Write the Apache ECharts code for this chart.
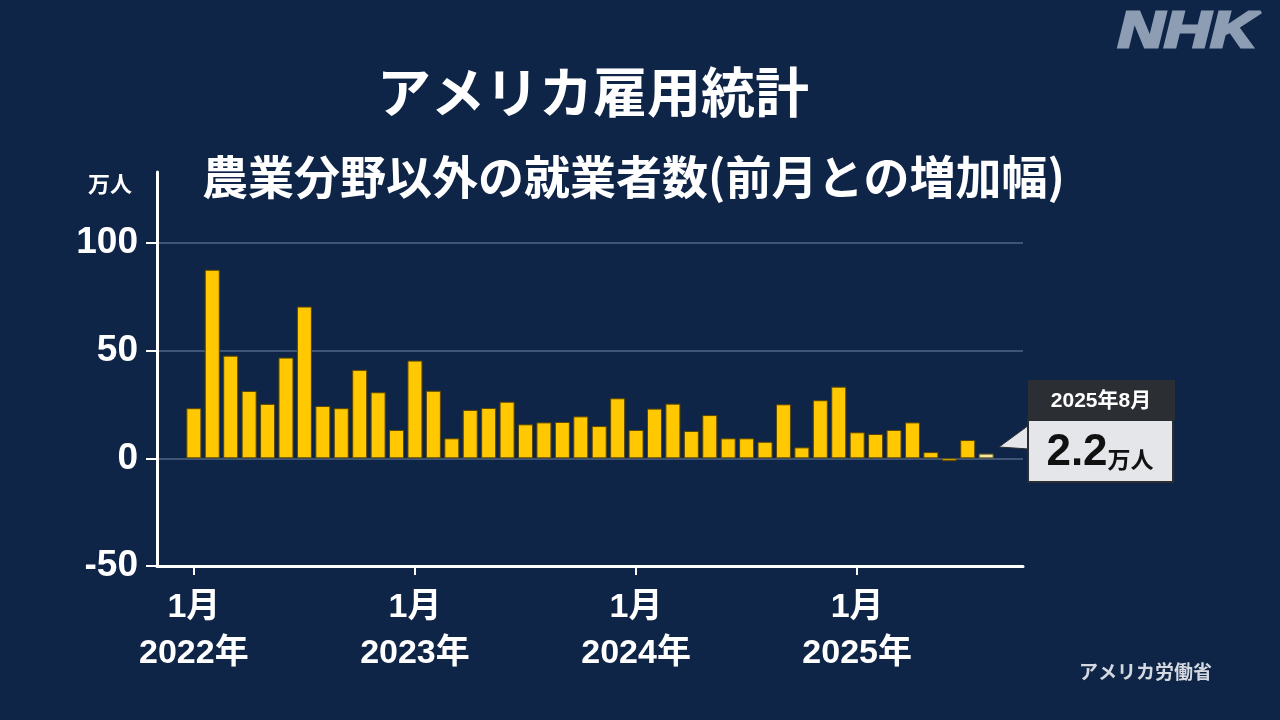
<!DOCTYPE html>
<html>
<head>
<meta charset="utf-8">
<script src="https://cdn.jsdelivr.net/npm/echarts@6/dist/echarts.min.js"></script>
<style>
html,body{margin:0;padding:0;background:#0f2548;}
#c{width:1280px;height:720px;}
</style>
</head>
<body>
<div id="c"></div>
<script>
// Months Jan 2022 .. Aug 2025
const months = [
 '2022-01','2022-02','2022-03','2022-04','2022-05','2022-06','2022-07','2022-08','2022-09','2022-10','2022-11','2022-12',
 '2023-01','2023-02','2023-03','2023-04','2023-05','2023-06','2023-07','2023-08','2023-09','2023-10','2023-11','2023-12',
 '2024-01','2024-02','2024-03','2024-04','2024-05','2024-06','2024-07','2024-08','2024-09','2024-10','2024-11','2024-12',
 '2025-01','2025-02','2025-03','2025-04','2025-05','2025-06','2025-07','2025-08'
];
// Non-farm payroll change, 10,000 persons (万人)
const values = [
 23.3, 87.6, 47.7, 31.3, 25.3, 46.8, 70.5, 24.3, 23.3, 41.1, 30.7, 13.2,
 45.4, 31.4, 9.3, 22.5, 23.4, 26.3, 15.8, 16.7, 16.9, 19.5, 15.0, 27.9,
 13.2, 23.1, 25.4, 12.7, 20.1, 9.3, 9.3, 7.7, 25.1, 5.1, 27.0, 33.3,
 12.1, 11.3, 13.2, 16.7, 2.9, -1.3, 8.5, 2.2
];
const yTicks = [-50, 0, 50, 100];
const xTickIndex = [0, 12, 24, 36];
const xTickLabels = ['1月\n2022年', '1月\n2023年', '1月\n2024年', '1月\n2025年'];
const titleText = 'アメリカ雇用統計';
const subtitleText = '農業分野以外の就業者数(前月との増加幅)';
const unitText = '万人';
const calloutMonth = '2025年8月';
const calloutValue = '2.2';
const sourceText = 'アメリカ労働省';

const FONT = '"Liberation Sans", "Noto Sans CJK JP", sans-serif';
const CJK = '"Noto Sans CJK JP", sans-serif';

const chart = echarts.init(document.getElementById('c'), null, {renderer: 'canvas'});
const lastIdx = values.length - 1;
const barData = values.map((v, i) => {
  const item = {value: [i, v]};
  if (i === lastIdx) item.itemStyle = {color: '#f8e79e', borderColor: '#6b5a20'};
  return item;
});

chart.setOption({
  backgroundColor: '#0f2548',
  animation: false,
  title: [
    {text: titleText, left: 372, top: 60,
     textStyle: {color: '#ffffff', fontSize: 54, fontWeight: 'bold', fontFamily: CJK}},
    {text: subtitleText, left: 197, top: 149,
     textStyle: {color: '#ffffff', fontSize: 46, fontWeight: 'bold', fontFamily: CJK}},
    {text: unitText, left: 83, top: 168,
     textStyle: {color: '#ffffff', fontSize: 22, fontWeight: 'bold', fontFamily: CJK}}
  ],
  grid: {left: 157, right: 257, top: 172, bottom: 154, containLabel: false},
  xAxis: {
    type: 'value', min: -2, max: 45,
    axisLine: {show: true, onZero: false, lineStyle: {color: '#ffffff', width: 3}},
    axisTick: {show: true, customValues: xTickIndex, length: 9, lineStyle: {color: '#ffffff', width: 2}},
    axisLabel: {
      show: true, customValues: xTickIndex, margin: 19,
      formatter: (v) => xTickLabels[xTickIndex.indexOf(v)] || '',
      color: '#ffffff', fontSize: 34, fontWeight: 'bold', fontFamily: FONT, lineHeight: 46
    },
    splitLine: {show: false}
  },
  yAxis: {
    type: 'value', min: -50, max: 133,
    axisLine: {show: true, onZero: false, lineStyle: {color: '#ffffff', width: 3}},
    axisTick: {show: true, customValues: yTicks, length: 11, lineStyle: {color: '#ffffff', width: 2}},
    axisLabel: {
      show: true, customValues: yTicks, margin: 19,
      color: '#ffffff', fontSize: 37, fontWeight: 'bold', fontFamily: FONT
    },
    splitLine: {show: true, showMinLine: false, showMaxLine: true,
      lineStyle: {color: '#3e5575', width: 2}}
  },
  series: [{
    type: 'bar',
    data: barData,
    barWidth: 15,
    itemStyle: {color: '#ffc800', borderColor: '#5a4700', borderWidth: 1}
  }],
  graphic: [
    // NHK logo
    {type: 'text', x: 1118, y: 8, scaleX: 1.28,
     style: {text: 'NHK', fill: '#8d9db3', stroke: '#8d9db3', lineWidth: 3,
       fontSize: 50, fontWeight: 'bold', fontStyle: 'italic',
       fontFamily: '"Liberation Sans", sans-serif'}},
    // source
    {type: 'text', left: 1079, top: 662,
     style: {text: sourceText, fill: '#d4d8e0', fontSize: 19, fontWeight: 'bold', fontFamily: CJK}},
    // callout pointer
    {type: 'polygon', shape: {points: [[999, 447], [1029, 425], [1029, 449]]},
     style: {fill: '#e4e6e9', stroke: '#2a2e33', lineWidth: 1}, z: 10},
    // callout header
    {type: 'rect', shape: {x: 1028, y: 380, width: 147, height: 40},
     style: {fill: '#2b2f34'}, z: 10},
    {type: 'text', x: 1101, y: 401, z: 11,
     style: {text: calloutMonth, fill: '#ffffff', fontSize: 21, fontWeight: 'bold', fontFamily: FONT,
       align: 'center', verticalAlign: 'middle'}},
    // callout body
    {type: 'rect', shape: {x: 1028, y: 420, width: 145, height: 62},
     style: {fill: '#e4e6e9', stroke: '#2a2e33', lineWidth: 2}, z: 10},
    {type: 'text', x: 1100, y: 453, z: 11,
     style: {
       text: '{v|' + calloutValue + '}{u|' + unitText + '}',
       align: 'center', verticalAlign: 'middle',
       rich: {
         v: {fill: '#111111', fontSize: 44, fontWeight: 'bold', fontFamily: FONT},
         u: {fill: '#111111', fontSize: 23, fontWeight: 'bold', fontFamily: CJK, padding: [12, 0, 0, 0]}
       }
     }}
  ]
});
</script>
</body>
</html>
